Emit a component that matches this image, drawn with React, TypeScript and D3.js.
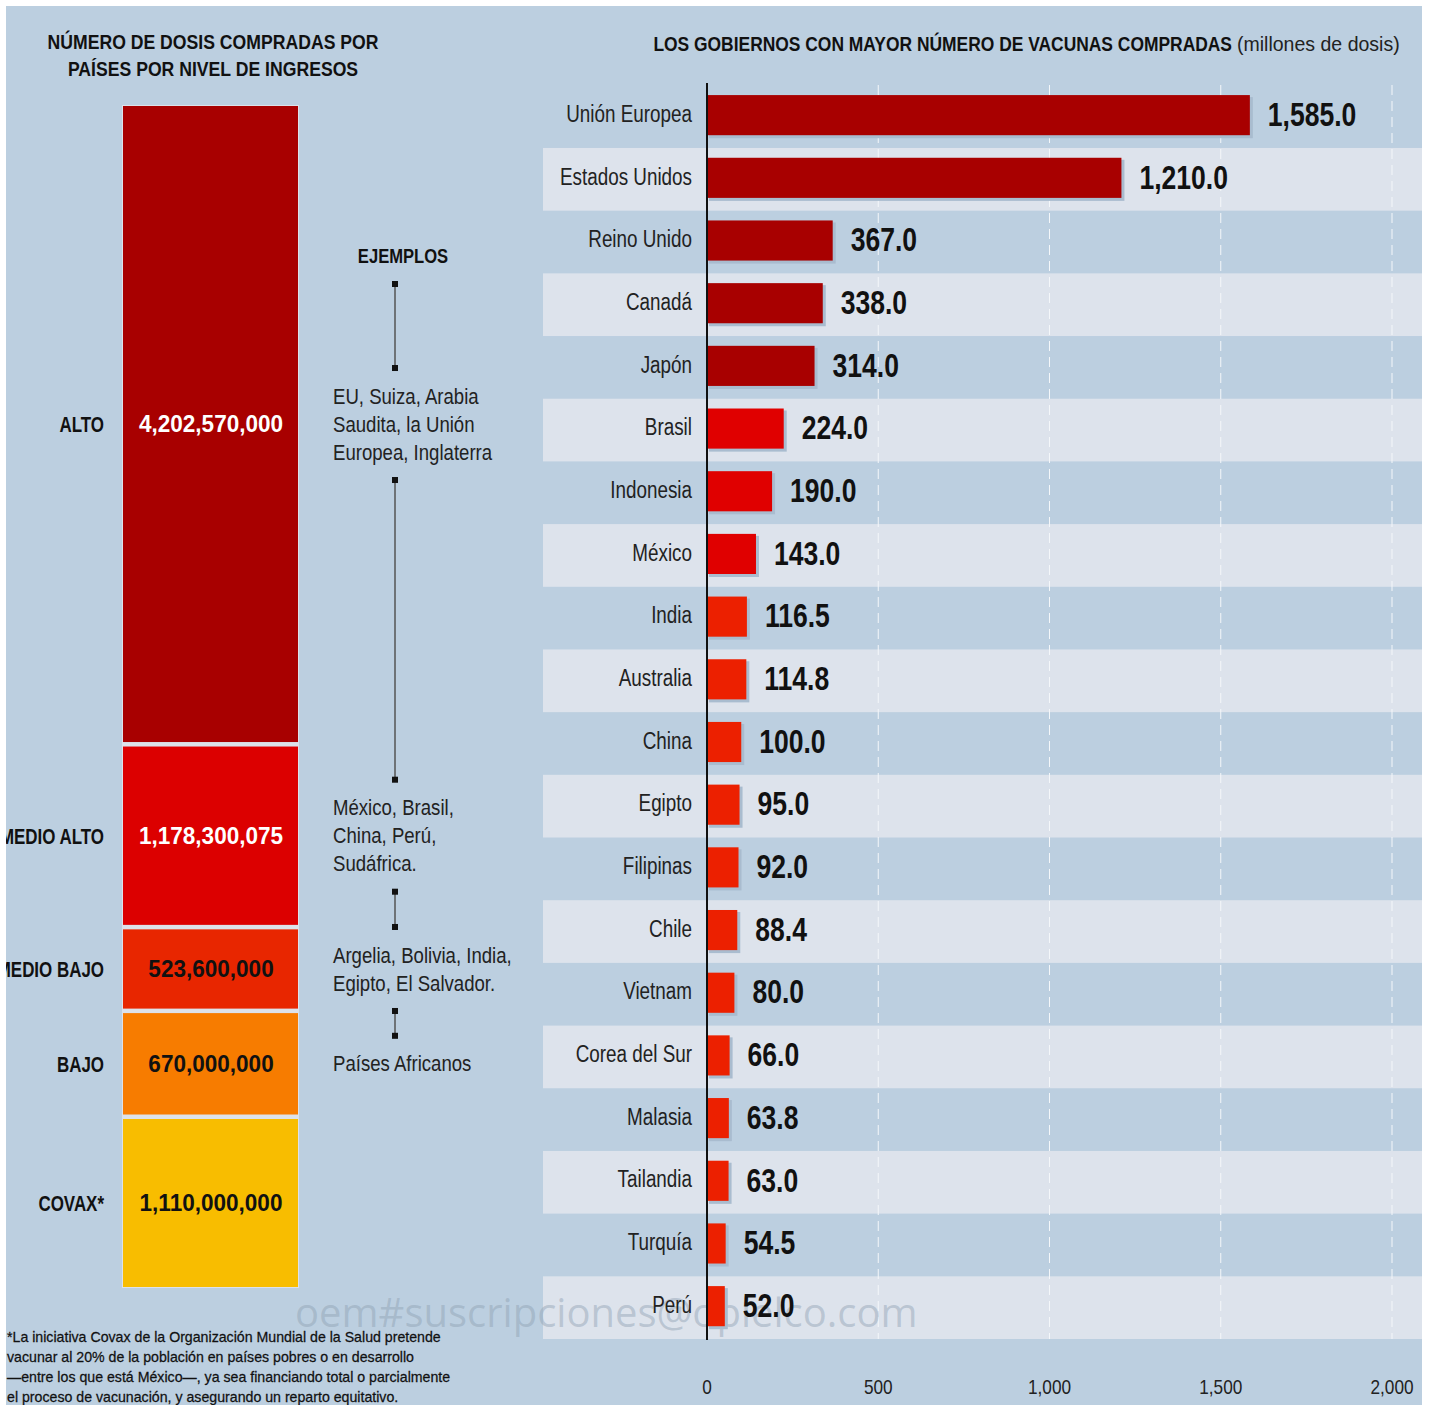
import React from "react";
import * as d3 from "d3";

// ---------- data ----------
const countries = ["Unión Europea", "Estados Unidos", "Reino Unido", "Canadá", "Japón", "Brasil", "Indonesia", "México", "India", "Australia", "China", "Egipto", "Filipinas", "Chile", "Vietnam", "Corea del Sur", "Malasia", "Tailandia", "Turquía", "Perú"];
const dosesMillions = [1585, 1210, 367, 338, 314, 224, 190, 143, 116.5, 114.8, 100, 95, 92, 88.4, 80, 66, 63.8, 63, 54.5, 52];
const xTicks = [0, 500, 1000, 1500, 2000];

const incomeLevels = ["ALTO", "MEDIO ALTO", "MEDIO BAJO", "BAJO", "COVAX*"];
const incomeDoses = [4202570000, 1178300075, 523600000, 670000000, 1110000000];
const examples = [
  ["EU, Suiza, Arabia", "Saudita, la Unión", "Europea, Inglaterra"],
  ["México, Brasil,", "China, Perú,", "Sudáfrica."],
  ["Argelia, Bolivia, India,", "Egipto, El Salvador."],
  ["Países Africanos"],
];
const footnote = [
  "*La iniciativa Covax de la Organización Mundial de la Salud pretende",
  "vacunar al 20% de la población en países pobres o en desarrollo",
  "—entre los que está México—, ya sea financiando total o parcialmente",
  "el proceso de vacunación, y asegurando un reparto equitativo.",
];

// ---------- style ----------
const FONT = "'Liberation Sans', Arial, sans-serif";
const BG = "#bccfe0";
const STRIPE = "#dde3ec";
const W = 1431;
const H = 1405;
const segColors = ["#a80000", "#dc0000", "#e82600", "#f77c00", "#f8bd00"];
const segTextColors = ["#ffffff", "#ffffff", "#111111", "#111111", "#111111"];

function barColor(i: number) {
  if (i < 5) return "#a80000";
  if (i < 8) return "#e00000";
  return "#ec2000";
}

// condensed text helper
function T(props: any) {
  const { x, y, sx = 0.82, children, ...rest } = props;
  return (
    <text transform={`translate(${x},${y}) scale(${sx},1)`} dominantBaseline="central" {...rest}>
      {children}
    </text>
  );
}

export default function App() {
  const x = d3.scaleLinear().domain([0, 2000]).range([707, 1392]);
  const y = d3.scaleBand<string>().domain(countries).range([85.3, 1339]).paddingInner(0).paddingOuter(0);
  const bw = y.bandwidth();
  const barH = bw * 0.64;

  const top = 106, bottom = 1287, gap = 4.5;
  const total = d3.sum(incomeDoses);
  const k = d3.scaleLinear().domain([0, total]).range([0, bottom - top - gap * (incomeDoses.length - 1)]);
  const cum = d3.cumsum(incomeDoses);
  const segs = incomeDoses.map((v, i) => {
    const y0 = top + k(cum[i] - v) + i * gap;
    const y1 = top + k(cum[i]) + i * gap;
    return { y0, y1, c: (y0 + y1) / 2 };
  });
  const fmt = d3.format(",");
  const fmt1 = d3.format(",.1f");

  const lineH = 28;
  const blocks = examples.map((lines, i) => {
    const c = segs[i].c;
    const first = c - ((lines.length - 1) * lineH) / 2;
    return { lines, first, last: first + (lines.length - 1) * lineH };
  });
  const connectors: [number, number][] = [];
  let prev = 256;
  blocks.forEach((b) => {
    connectors.push([prev + 28, b.first - 28]);
    prev = b.last;
  });

  return (
    <svg width={W} height={H} style={{ position: "absolute", left: 0, top: 0 }} fontFamily={FONT}>
      <defs>
        <clipPath id="panel">
          <rect x={6} y={6} width={1416} height={H - 6} />
        </clipPath>
      </defs>
      <rect x={0} y={0} width={W} height={H} fill="#ffffff" />
      <g clipPath="url(#panel)">
        <rect x={6} y={6} width={1416} height={H - 6} fill={BG} />

        {/* left titles */}
        <T x={213} y={41} sx={0.84} textAnchor="middle" fontWeight="bold" fontSize={21} fill="#111">NÚMERO DE DOSIS COMPRADAS POR</T>
        <T x={213} y={68} sx={0.84} textAnchor="middle" fontWeight="bold" fontSize={21} fill="#111">PAÍSES POR NIVEL DE INGRESOS</T>

        {/* stacked bar */}
        <rect x={122} y={top - 1} width={177} height={bottom - top + 2} fill="#dde2ea" />
        {segs.map((s, i) => (
          <g key={incomeLevels[i]}>
            <rect x={123} y={s.y0} width={175} height={s.y1 - s.y0} fill={segColors[i]} />
            <T x={211} y={s.c} sx={0.98} textAnchor="middle" fontWeight="bold" fontSize={23} fill={segTextColors[i]}>{fmt(incomeDoses[i])}</T>
            <T x={104} y={s.c} sx={0.77} textAnchor="end" fontWeight="bold" fontSize={22} fill="#111">{incomeLevels[i]}</T>
          </g>
        ))}

        {/* examples */}
        <T x={403} y={256} sx={0.79} textAnchor="middle" fontWeight="bold" fontSize={21} fill="#111">EJEMPLOS</T>
        {connectors.map(([a, b], i) => (
          <g key={"c" + i}>
            <line x1={395} x2={395} y1={a} y2={b} stroke="#555" strokeWidth={1.5} />
            <rect x={392} y={a - 3} width={6} height={6} fill="#111" />
            <rect x={392} y={b - 3} width={6} height={6} fill="#111" />
          </g>
        ))}
        {blocks.map((b, i) => (
          <g key={"b" + i}>
            {b.lines.map((l, j) => (
              <T key={j} x={333} y={b.first + j * lineH} sx={0.845} fontSize={22} fill="#222">{l}</T>
            ))}
          </g>
        ))}

        {/* footnote */}
        {footnote.map((l, i) => (
          <T key={"f" + i} x={7} y={1337 + i * 20} sx={0.945} fontSize={15} fill="#111" stroke="#111" strokeWidth={0.25}>{l}</T>
        ))}

        {/* right title */}
        <T x={1232} y={44} sx={0.83} textAnchor="end" fontWeight="bold" fontSize={21} fill="#111">LOS GOBIERNOS CON MAYOR NÚMERO DE VACUNAS COMPRADAS</T>
        <T x={1237} y={44} sx={0.93} fontSize={21} fill="#222">(millones de dosis)</T>

        {/* stripes */}
        {countries.map((c, i) =>
          i % 2 === 1 ? <rect key={"s" + c} x={543} y={y(c)!} width={1422 - 543} height={bw} fill={STRIPE} /> : null
        )}

        {/* gridlines */}
        {xTicks.filter((t) => t > 0).map((t) => (
          <line key={"g" + t} x1={x(t)} x2={x(t)} y1={85} y2={1339} stroke="#f4f7fa" strokeWidth={1} strokeDasharray="10 6" />
        ))}

        {/* watermark */}
        <text x={295} y={1311} dominantBaseline="central" fontSize={40} fontFamily="'Open Sans', sans-serif" fill="#8e9fb2" fillOpacity={0.45}>oem#suscripciones@oplelco.com</text>

        {/* bars */}
        {countries.map((c, i) => {
          const yy = y(c)! + (bw - barH) / 2 - 1.5;
          const w = x(dosesMillions[i]) - x(0);
          const cy = y(c)! + bw / 2 - 3;
          return (
            <g key={"bar" + c}>
              <rect x={x(0) + 2} y={yy + 2} width={w + 1} height={barH + 1} fill="#a9bccf" />
              <rect x={x(0)} y={yy} width={w} height={barH} fill={barColor(i)} />
              <T x={x(dosesMillions[i]) + 18} y={cy} sx={0.78} fontWeight="bold" fontSize={34} fill="#111">{fmt1(dosesMillions[i])}</T>
              <T x={692} y={cy} sx={0.82} textAnchor="end" fontSize={23} fill="#222">{c}</T>
            </g>
          );
        })}

        {/* axis */}
        <line x1={x(0)} x2={x(0)} y1={83} y2={1340} stroke="#111" strokeWidth={2} />
        {xTicks.map((t) => (
          <T key={"t" + t} x={x(t)} y={1387} sx={0.82} textAnchor="middle" fontSize={21} fill="#222">{fmt(t)}</T>
        ))}
      </g>
    </svg>
  );
}
